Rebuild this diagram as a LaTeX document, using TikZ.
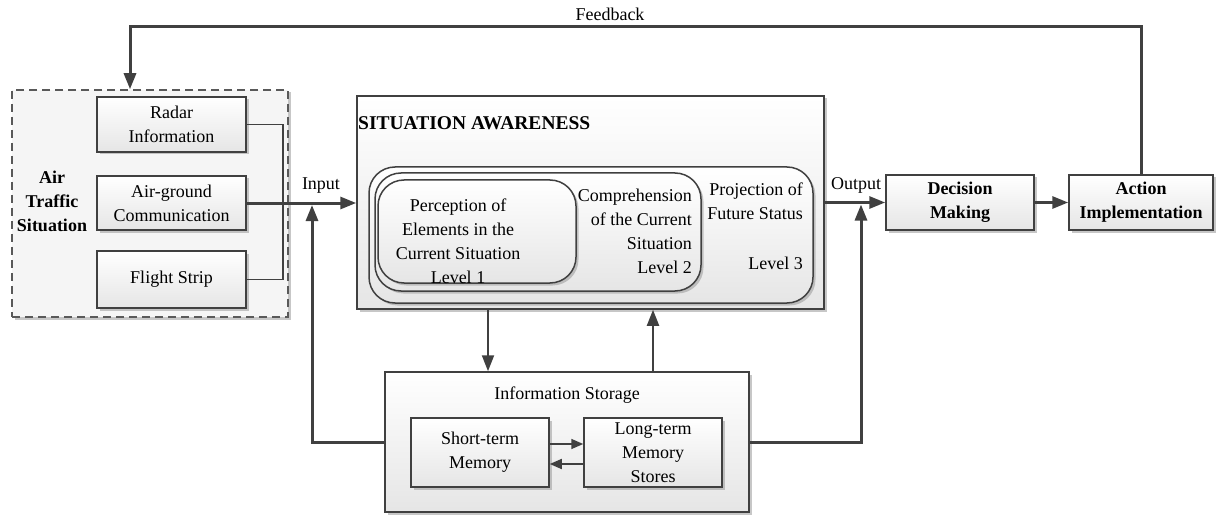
\documentclass[tikz,border=0pt]{standalone}
\usepackage{fontspec}
\setmainfont{Liberation Serif}
\usetikzlibrary{arrows.meta,shadows,calc}
\begin{document}
\begin{tikzpicture}[x=1pt,y=-1pt,
  every node/.style={font=\fontsize{18}{24}\selectfont},
  shd/.style={drop shadow={shadow xshift=2.5pt, shadow yshift=-2.5pt, fill=black!40, opacity=0.55}},
  box/.style={draw=black!75, line width=1.5pt, top color=white, bottom color=black!10, shd, inner sep=0pt, align=center},
  rbox/.style={box, rounded corners=26pt},
  dbox/.style={draw=black!65, line width=1.5pt, dash pattern=on 8pt off 5pt, fill=black!4, shd, inner sep=0pt},
  txt/.style={inner sep=0pt, align=center},
  bold/.style={font=\fontsize{18}{24}\selectfont\bfseries},
  thick line/.style={draw=black!75, line width=3pt},
  mid line/.style={draw=black!75, line width=2pt},
  thin line/.style={draw=black!75, line width=1.6pt},
  tip/.style={-{Triangle[length=16pt,width=12pt]}},
  stip/.style={-{Triangle[length=12pt,width=10pt]}}
]
\useasboundingbox (0,0) rectangle (1216,516);

% Air traffic situation group
\node[dbox, minimum width=276pt, minimum height=227pt] (ats) at (150,203.5) {};
\node[box, minimum width=149pt, minimum height=55pt] (radar) at (171.5,124.5) {Radar\\Information};
\node[box, minimum width=149pt, minimum height=54pt] (ag) at (171.5,203) {Air-ground\\Communication};
\node[box, minimum width=149pt, minimum height=57pt] (fs) at (171.5,279.5) {Flight Strip};
\node[txt, bold] (atst) at (52,201) {Air\\Traffic\\Situation};

% Situation awareness
\node[box, minimum width=467pt, minimum height=213pt] (sa) at (590.5,202.5) {};
\node[txt, font=\fontsize{19.5}{24}\selectfont\bfseries, anchor=west] (sat) at (358,123) {SITUATION AWARENESS};
\node[rbox, minimum width=444pt, minimum height=136pt] (l3) at (591,235) {};
\node[rbox, minimum width=326pt, minimum height=118pt] (l2) at (538,232) {};
\node[rbox, minimum width=198pt, minimum height=103pt] (l1) at (477,231.5) {};
\node[txt] (l1t) at (458,241) {Perception of\\Elements in the\\Current Situation\\Level 1};
\node[txt, align=right, anchor=east] (l2t) at (692,231) {Comprehension\\of the Current\\Situation\\Level 2};
\node[txt, align=right, anchor=east] (l3t) at (803,201.5) {Projection of\\Future Status};
\node[txt, anchor=east] (l3l) at (803,263) {Level 3};

% Information storage
\node[box, minimum width=364pt, minimum height=140pt] (is) at (567,442) {};
\node[txt] (ist) at (567,395) {Information Storage};
\node[box, minimum width=138pt, minimum height=69pt] (st) at (480,452.5) {Short-term\\Memory};
\node[box, minimum width=138pt, minimum height=69pt] (lt) at (653,452.5) {Long-term\\Memory\\Stores};

% Decision and action
\node[box, bold, minimum width=148pt, minimum height=55pt] (dm) at (960,202.5) {Decision\\Making};
\node[box, bold, minimum width=144pt, minimum height=55pt] (ai) at (1141,202.5) {Action\\Implementation};

% labels
\node[txt] (inl) at (321,186) {Input};
\node[txt] (outl) at (856,185) {Output};
\node[txt] (fbl) at (610,14) {Feedback};

% bracket from sources
\coordinate (br) at (283,0);
\draw[thin line] (radar.east) -- (radar.east -| br) -- (fs.east -| br) -- (fs.east);

% input
\draw[thick line, tip] (ag.east) -- (ag.east -| sa.west);
\coordinate (inx) at (312,0);
\draw[thick line, tip] (is.west) -- (is.west -| inx) -- ($(ag.east -| inx)+(0,2)$);

% output
\draw[thick line, tip] (sa.east) -- (dm.west);
\coordinate (outx) at (861,0);
\draw[thick line, tip] (is.east) -- (is.east -| outx) -- ($(sa.east -| outx)+(0,2)$);
\draw[thick line, tip] (dm.east) -- (ai.west);

% SA <-> storage
\coordinate (dnx) at (488,0);
\coordinate (upx) at (653,0);
\draw[mid line, tip] (sa.south -| dnx) -- (is.north -| dnx);
\draw[mid line, tip] (is.north -| upx) -- (sa.south -| upx);

% memory exchange
\draw[thin line, stip] ($(st.east)+(0,-8.5)$) -- ($(lt.west)+(0,-8.5)$);
\draw[thin line, stip] ($(lt.west)+(0,11.5)$) -- ($(st.east)+(0,11.5)$);

% feedback
\coordinate (fb) at (130,27);
\draw[thick line, tip] (ai.north) |- (fb) -- (fb |- ats.north);
\end{tikzpicture}
\end{document}
